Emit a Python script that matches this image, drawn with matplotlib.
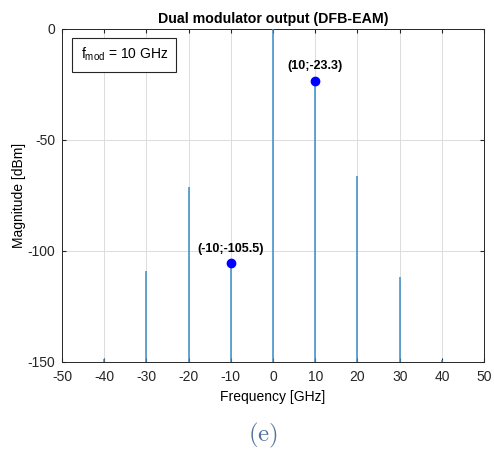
import matplotlib
matplotlib.use("Agg")
import matplotlib.pyplot as plt

plt.rcParams['font.family'] = ['Liberation Sans', 'DejaVu Sans']
plt.rcParams['axes.unicode_minus'] = False
plt.rcParams['mathtext.fontset'] = 'custom'
plt.rcParams['mathtext.rm'] = 'Liberation Sans'

# spectral lines of the dual modulator output
freq = [-40, -30, -20, -10, 0, 10, 20, 30, 40]
mag = [-148.5, -109.0, -71.2, -105.5, 0.0, -23.3, -66.2, -111.6, -149.3]

# annotated points
mark_f = [10, -10]
mark_m = [-23.3, -105.5]

floor = -150
line_col = '#3a8cc6'

fig = plt.figure(figsize=(4.94, 4.5), dpi=100)
ax = fig.add_axes([0.1255, 0.1956, 0.8545, 0.74])

ax.vlines(freq, floor, mag, color=line_col, lw=1.1, zorder=3)
ax.plot(mark_f, mark_m, 'o', color='#0000FF', ms=6, zorder=4)
for f, m in zip(mark_f, mark_m):
    ax.annotate(f'({f:g};{m:g})', (f, m), xytext=(0, 6), textcoords='offset points',
                ha='center', va='bottom', fontsize=9, fontweight='bold')

ax.set_xlim(-50, 50)
ax.set_ylim(-150, 0)
ax.set_xticks(range(-50, 51, 10))
ax.set_yticks([-150, -100, -50, 0])
ax.grid(True, color='#dcdcdc', lw=0.7)
ax.set_axisbelow(True)
ax.tick_params(direction='in', length=3, labelsize=10, colors='#262626',
               top=True, right=True)
ax.tick_params(axis='x', pad=6)
ax.tick_params(axis='y', pad=5)
for s in ax.spines.values():
    s.set_color('#262626')
    s.set_linewidth(0.7)

ax.set_title('Dual modulator output (DFB-EAM)', fontsize=10.2, fontweight='bold', pad=4)
ax.set_xlabel('Frequency [GHz]', fontsize=10, labelpad=4)
ax.set_ylabel('Magnitude [dBm]', fontsize=10, labelpad=1)

ax.text(-45.6, -11.6, r'f$_{\mathrm{mod}}$ = 10 GHz', fontsize=10, va='center', ha='left',
        math_fontfamily='custom',
        bbox=dict(boxstyle='square,pad=0.6', fc='white', ec='#262626', lw=0.8))

fig.text(0.532, 0.033, r'$\mathrm{(e)}$', fontsize=18, color='#50749e',
         ha='center', va='center', math_fontfamily='cm')

fig.savefig('out.png', dpi=100, facecolor='white')
